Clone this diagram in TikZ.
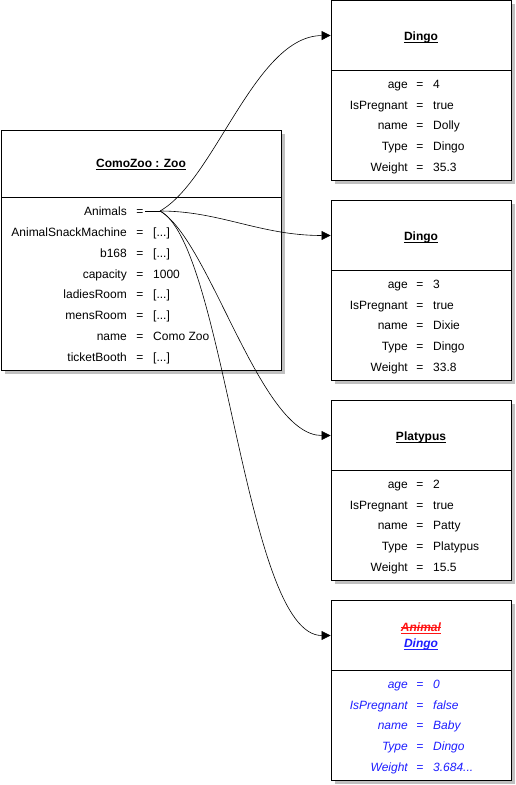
\documentclass[tikz,border=0pt]{standalone}
\usepackage{fontspec}
\setmainfont{Liberation Sans}
\usetikzlibrary{arrows.meta,shadows}
\definecolor{shadowgray}{RGB}{192,192,192}
\definecolor{vblue}{RGB}{30,30,255}
\definecolor{vred}{RGB}{255,20,20}
\tikzset{
  objbox/.style={draw=black,line width=0.9pt,fill=white,inner sep=0pt},
  shadowed/.style={drop shadow={shadow xshift=4pt,shadow yshift=-4pt,fill=shadowgray,opacity=1}},
  hdr/.style={draw=black,line width=0.9pt,inner sep=0pt},
  lbl/.style={inner sep=0pt,text height=8.6pt,text depth=0pt,font=\fontsize{12}{14}\selectfont},
  keyl/.style={lbl,anchor=east},
  vall/.style={lbl,anchor=west},
  eql/.style={lbl,anchor=center},
  ttl/.style={lbl,anchor=center,font=\fontsize{12}{14}\selectfont\bfseries},
  virt/.style={text=vblue,font=\fontsize{12}{14}\selectfont\itshape},
  uln/.style={line width=0.9pt},
  link/.style={line width=0.6pt,-{Triangle[length=9pt,width=9pt]}},
}
\newcommand\zrow[4]{%
  \node[keyl] (#1k) at (127,#2) {#3};
  \node[eql] (#1e) at (140,#2) {=};
  \node[vall] (#1v) at (153,#2) {#4};}
\newcommand\brow[6]{%
  \node[keyl,#6] (#1k) at (408,{#2+84+20.8*#3}) {#4};
  \node[eql,#6] (#1e) at (420,{#2+84+20.8*#3}) {=};
  \node[vall,#6] (#1v) at (433,{#2+84+20.8*#3}) {#5};}
\newcommand\ulnode[2][black]{%
  \draw[uln,#1] ([yshift=-1.6pt]#2.south west) -- ([yshift=-1.6pt]#2.south east);}
\begin{document}
\begin{tikzpicture}[x=1pt,y=-1pt]
\useasboundingbox (0,0) rectangle (515,785);

% ---------- Zoo object ----------
\node[objbox,shadowed,minimum width=280pt,minimum height=240pt] (zoo) at (141,250) {};
\node[hdr,minimum width=280pt,minimum height=67pt] (zooh) at (141,163.5) {};
\node[ttl] (zoot) at (141,163.5) {ComoZoo : Zoo};
\ulnode{zoot}
\node[keyl] (z0k) at (127,211) {Animals};
\node[eql] (z0e) at (140,211) {=};
\coordinate (animeq) at (145,211);
\coordinate (anim) at (160,211);
\zrow{z1}{231.9}{AnimalSnackMachine}{[...]}
\zrow{z2}{252.8}{b168}{[...]}
\zrow{z3}{273.7}{capacity}{1000}
\zrow{z4}{294.6}{ladiesRoom}{[...]}
\zrow{z5}{315.5}{mensRoom}{[...]}
\zrow{z6}{336.4}{name}{Como Zoo}
\zrow{z7}{357.3}{ticketBooth}{[...]}

% ---------- Dingo 1 ----------
\node[objbox,shadowed,minimum width=180pt,minimum height=180pt] (b1) at (421,90) {};
\node[hdr,minimum width=180pt,minimum height=70pt] (h1) at (421,35.5) {};
\node[ttl] (t1) at (421,36) {Dingo};
\ulnode{t1}
\brow{a1}{0}{0}{age}{4}{}
\brow{a2}{0}{1}{IsPregnant}{true}{}
\brow{a3}{0}{2}{name}{Dolly}{}
\brow{a4}{0}{3}{Type}{Dingo}{}
\brow{a5}{0}{4}{Weight}{35.3}{}

% ---------- Dingo 2 ----------
\node[objbox,shadowed,minimum width=180pt,minimum height=180pt] (b2) at (421,290) {};
\node[hdr,minimum width=180pt,minimum height=70pt] (h2) at (421,235.5) {};
\node[ttl] (t2) at (421,236) {Dingo};
\ulnode{t2}
\brow{c1}{200}{0}{age}{3}{}
\brow{c2}{200}{1}{IsPregnant}{true}{}
\brow{c3}{200}{2}{name}{Dixie}{}
\brow{c4}{200}{3}{Type}{Dingo}{}
\brow{c5}{200}{4}{Weight}{33.8}{}

% ---------- Platypus ----------
\node[objbox,shadowed,minimum width=180pt,minimum height=180pt] (b3) at (421,490) {};
\node[hdr,minimum width=180pt,minimum height=70pt] (h3) at (421,435.5) {};
\node[ttl] (t3) at (421,436) {Platypus};
\ulnode{t3}
\brow{p1}{400}{0}{age}{2}{}
\brow{p2}{400}{1}{IsPregnant}{true}{}
\brow{p3}{400}{2}{name}{Patty}{}
\brow{p4}{400}{3}{Type}{Platypus}{}
\brow{p5}{400}{4}{Weight}{15.5}{}

% ---------- Animal / Dingo (virtual) ----------
\node[objbox,shadowed,minimum width=180pt,minimum height=180pt] (b4) at (421,690) {};
\node[hdr,minimum width=180pt,minimum height=70pt] (h4) at (421,635.5) {};
\node[ttl,text=vred,font=\fontsize{12}{14}\selectfont\bfseries\itshape] (t4a) at (421,627) {Animal};
\draw[uln,vred] ([yshift=-0.5pt]t4a.west) -- ([yshift=-0.5pt]t4a.east);
\ulnode[vred]{t4a}
\node[ttl,text=vblue,font=\fontsize{12}{14}\selectfont\bfseries\itshape] (t4b) at (421,643) {Dingo};
\ulnode[vblue]{t4b}
\brow{v1}{600}{0}{age}{0}{virt}
\brow{v2}{600}{1}{IsPregnant}{false}{virt}
\brow{v3}{600}{2}{name}{Baby}{virt}
\brow{v4}{600}{3}{Type}{Dingo}{virt}
\brow{v5}{600}{4}{Weight}{3.684...}{virt}

% ---------- connectors ----------
\draw[line width=0.6pt] (animeq) -- (anim);
\draw[link] (anim) .. controls (215,180) and (255,36) .. (h1.west);
\draw[link] (anim) .. controls (220,211) and (260,235.5) .. (h2.west);
\draw[link] (anim) .. controls (210,240) and (260,435.5) .. (h3.west);
\draw[link] (anim) .. controls (225,245) and (245,635.5) .. (h4.west);
\end{tikzpicture}
\end{document}
